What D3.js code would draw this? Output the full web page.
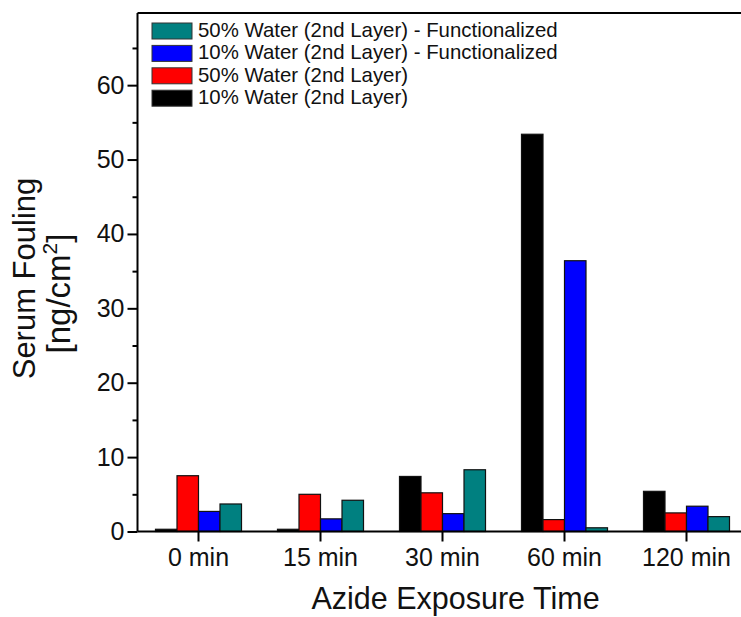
<!DOCTYPE html>
<html>
<head>
<meta charset="utf-8">
<script src="https://cdn.jsdelivr.net/npm/d3@7"></script>
<style>
  html, body { margin: 0; padding: 0; background: #fff; }
  svg { display: block; font-family: "Liberation Sans", Arial, sans-serif; }
</style>
</head>
<body>
<svg id="chart" width="741" height="617"></svg>
<script>
// ---- data ----
const categories = ["0 min", "15 min", "30 min", "60 min", "120 min"];
const seriesNames = [
  "10% Water (2nd Layer)",
  "50% Water (2nd Layer)",
  "10% Water (2nd Layer) - Functionalized",
  "50% Water (2nd Layer) - Functionalized"
];
const seriesColors = ["#000000", "#ff0000", "#0000ff", "#008080"];
const water10 = [0.3, 0.3, 7.4, 53.4, 5.4];
const water50 = [7.5, 5.0, 5.2, 1.6, 2.5];
const water10Func = [2.7, 1.7, 2.4, 36.4, 3.4];
const water50Func = [3.7, 4.2, 8.3, 0.5, 2.0];
const yMajorTicks = [0, 10, 20, 30, 40, 50, 60];
const yMinorTicks = [5, 15, 25, 35, 45, 55, 65];
const values = [water10, water50, water10Func, water50Func];

// ---- layout ----
const svg = d3.select("#chart");
const mLeft = 137.5, mRight = 747.5, mTop = 13, mBottom = 531.5;
const FONT = "'Liberation Sans', Arial, sans-serif";

const x0 = d3.scaleBand().domain(categories).range([mLeft, mRight])
  .paddingInner(0.295).paddingOuter(0.1475);
const x1 = d3.scaleBand().domain(d3.range(seriesNames.length)).range([0, x0.bandwidth()]);
const y = d3.scaleLinear().domain([0, 69.7]).range([mBottom, mTop]);

// bars
const groups = svg.append("g").selectAll("g").data(categories).join("g")
  .attr("transform", d => `translate(${x0(d)},0)`);
groups.selectAll("rect")
  .data((c, ci) => values.map((arr, si) => ({si, v: arr[ci]})))
  .join("rect")
  .attr("x", d => x1(d.si))
  .attr("width", x1.bandwidth())
  .attr("y", d => y(d.v))
  .attr("height", d => y(0) - y(d.v))
  .attr("fill", d => seriesColors[d.si])
  .attr("stroke", "#111")
  .attr("stroke-width", 1.2);

// frame (top; right edge is off-canvas)
svg.append("line").attr("x1", mLeft).attr("x2", 760).attr("y1", mTop).attr("y2", mTop)
  .attr("stroke", "#000").attr("stroke-width", 2);

// y axis
const yAxis = d3.axisLeft(y).tickValues(yMajorTicks).tickSize(10).tickPadding(3).tickFormat(d3.format("d"));
const gy = svg.append("g").attr("transform", `translate(${mLeft},0)`).call(yAxis);
gy.select(".domain").attr("stroke-width", 2).attr("d", `M0,${mBottom}V${mTop}`);
gy.selectAll(".tick line").attr("stroke-width", 2);
gy.selectAll(".tick text").attr("font-size", 25).attr("fill", "#111").attr("font-family", FONT);
const gyMinor = svg.append("g").attr("transform", `translate(${mLeft},0)`)
  .call(d3.axisLeft(y).tickValues(yMinorTicks).tickSize(5).tickFormat(""));
gyMinor.select(".domain").remove();
gyMinor.selectAll(".tick line").attr("stroke-width", 2);

// x axis
const xAxis = d3.axisBottom(x0).tickSize(10).tickPadding(6.5);
const gx = svg.append("g").attr("transform", `translate(0,${mBottom})`).call(xAxis);
gx.select(".domain").attr("stroke-width", 2).attr("d", `M${mLeft},0H760`);
gx.selectAll(".tick line").attr("stroke-width", 2);
gx.selectAll(".tick text").attr("font-size", 25).attr("fill", "#111").attr("font-family", FONT);

// axis titles
svg.append("text").attr("x", 455.5).attr("y", 609).attr("text-anchor", "middle")
  .attr("font-size", 30.5).attr("fill", "#111").text("Azide Exposure Time");

const yt = svg.append("g");
yt.append("text").attr("transform", "translate(35,278.5) rotate(-90)")
  .attr("text-anchor", "middle").attr("font-size", 31).attr("fill", "#111").text("Serum Fouling");
const yt2 = yt.append("text").attr("transform", "translate(70,293.5) rotate(-90)")
  .attr("text-anchor", "middle").attr("font-size", 33).attr("fill", "#111");
yt2.append("tspan").text("[ng/cm");
yt2.append("tspan").attr("font-size", 21).attr("dy", -13).text("2");
yt2.append("tspan").attr("dy", 13).text("]");

// legend (reverse order)
const legendOrder = [3, 2, 1, 0];
const lg = svg.append("g");
legendOrder.forEach((si, i) => {
  const yy = 23 + i * 22.4;
  lg.append("rect").attr("x", 152).attr("y", yy).attr("width", 40).attr("height", 16)
    .attr("fill", seriesColors[si]).attr("stroke", "#333").attr("stroke-width", 1);
  lg.append("text").attr("x", 198).attr("y", yy + 14).attr("font-size", 20.4)
    .attr("fill", "#111").text(seriesNames[si]);
});
</script>
</body>
</html>
